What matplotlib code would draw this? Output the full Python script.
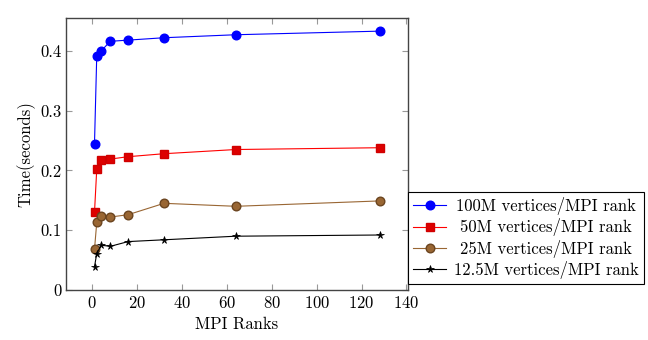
import matplotlib
matplotlib.use("Agg")
import matplotlib.pyplot as plt

plt.rcParams['font.family'] = 'serif'
plt.rcParams['font.serif'] = ['cmr10', 'DejaVu Serif']
plt.rcParams['mathtext.fontset'] = 'cm'
plt.rcParams['axes.formatter.use_mathtext'] = True

# Datos
ranks = [1, 2, 4, 8, 16, 32, 64, 128]
t_100m = [0.245, 0.392, 0.400, 0.416, 0.418, 0.422, 0.427, 0.433]
t_50m = [0.130, 0.202, 0.217, 0.219, 0.223, 0.228, 0.235, 0.238]
t_25m = [0.068, 0.113, 0.123, 0.122, 0.126, 0.145, 0.140, 0.149]
t_12m = [0.039, 0.061, 0.075, 0.073, 0.081, 0.084, 0.090, 0.092]

labels = ['100M vertices/MPI rank', '50M vertices/MPI rank',
          '25M vertices/MPI rank', '12.5M vertices/MPI rank']

fig = plt.figure(figsize=(6.48, 3.40), dpi=100)
ax = fig.add_axes([66/648, 50/340, 342/648, 272/340])

ax.plot(ranks, t_100m, color='blue', marker='o', markersize=6.2, lw=0.8, label=labels[0])
ax.plot(ranks, t_50m, color='red', marker='s', markersize=5.3, lw=0.8,
        markeredgecolor='#d00000', markerfacecolor='#dd0000', label=labels[1])
ax.plot(ranks, t_25m, color='#996633', marker='o', markersize=6.2, lw=0.8,
        markerfacecolor='#996633', markeredgecolor='#6b4520', label=labels[2])
ax.plot(ranks, t_12m, color='black', marker='*', markersize=5.5, lw=0.8,
        markerfacecolor='black', markeredgewidth=0.5, label=labels[3])

ax.set_xlim(1 - 12.7, 128 + 12.7)
ax.set_ylim(0, 0.455)
ax.set_xticks(range(0, 141, 20))
ax.set_yticks([0, 0.1, 0.2, 0.3, 0.4])
ax.set_yticklabels(['0', '0.1', '0.2', '0.3', '0.4'])
ax.tick_params(direction='in', top=True, right=True, length=4, color='#999999',
               labelsize=12)
for s in ax.spines.values():
    s.set_color('#444444')
    s.set_linewidth(1.0)

ax.set_xlabel('MPI Ranks', fontsize=12)
ax.set_ylabel('Time(seconds)', fontsize=12, labelpad=3)

leg = ax.legend(loc='upper left', bbox_to_anchor=(1.0, 0.36), fontsize=12,
                frameon=True, fancybox=False, framealpha=1, borderaxespad=0,
                handlelength=2.0, handletextpad=0.45, labelspacing=0.2, borderpad=0.3)
leg.get_frame().set_edgecolor('black')
leg.get_frame().set_linewidth(0.8)

# Centrar los textos de la leyenda (como en pgfplots)
fig.canvas.draw()
renderer = fig.canvas.get_renderer()
anchos = [t.get_window_extent(renderer).width for t in leg.get_texts()]
ancho_max = max(anchos)
for t, w in zip(leg.get_texts(), anchos):
    t.set_position(((ancho_max - w) / 2, 0))

fig.savefig('out.png', dpi=100)
